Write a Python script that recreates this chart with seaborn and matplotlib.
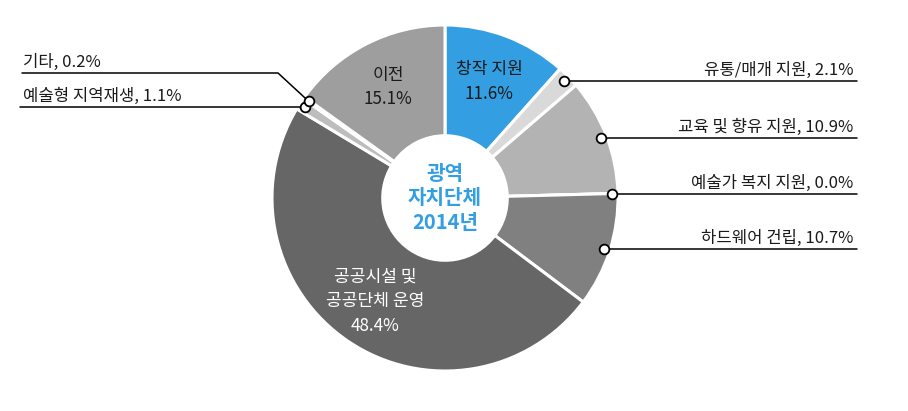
import numpy as np
import matplotlib
matplotlib.use("Agg")
import matplotlib.pyplot as plt
import seaborn as sns

# ---- data ----
categories = ["창작 지원", "유통/매개 지원", "교육 및 향유 지원", "예술가 복지 지원",
              "하드웨어 건립", "공공시설 및\n공공단체 운영", "예술형 지역재생", "기타", "이전"]
values = [11.6, 2.1, 10.9, 0.0, 10.7, 48.4, 1.1, 0.2, 15.1]
colors = ["#339FE2", "#D9D9D9", "#B3B3B3", "#A0A0A0", "#808080",
          "#666666", "#BDBDBD", "#D8D8D8", "#9E9E9E"]
center_title = "광역\n자치단체\n2014년"
inside_idx = [0, 5, 8]
right_idx = [1, 2, 3, 4]
left_idx = [6, 7]

sns.set_theme(style="white")
plt.rcParams["font.family"] = ["Noto Sans CJK KR", "DejaVu Sans"]

W, H = 908, 411
cx, cy, R = 445, 213, 173

fig = plt.figure(figsize=(W / 100, H / 100), dpi=100)
ax = fig.add_axes([0, 0, 1, 1])
ax.pie(values, colors=colors, startangle=90, counterclock=False, radius=R,
       center=(cx, cy), frame=True,
       wedgeprops=dict(width=R * 0.64, edgecolor="white", linewidth=2.2))
ax.set_xlim(0, W)
ax.set_ylim(0, H)
ax.axis("off")

vals = np.array(values)
mid = (np.cumsum(vals) - vals / 2) / vals.sum()
theta = np.deg2rad(90 - 360 * mid)

def pct(v):
    return f"{v:.1f}%"

# inside labels
for i in inside_idx:
    r = 0.72 * R
    x = cx + r * np.cos(theta[i])
    y = cy + r * np.sin(theta[i])
    col = "white" if i == 5 else "#1a1a1a"
    ax.text(x, y, f"{categories[i]}\n{pct(values[i])}", ha="center", va="center",
            fontsize=12.3, color=col, linespacing=1.45)

# center text
ax.text(cx, cy, center_title, ha="center", va="center", fontsize=14.5,
        fontweight="bold", color="#339FE2", linespacing=1.22)

mr = 0.965 * R
def marker_pos(i):
    return cx + mr * np.cos(theta[i]), cy + mr * np.sin(theta[i])

# right labels
for i in right_idx:
    mx, my = marker_pos(i)
    ax.plot([mx, 857], [my, my], color="black", lw=1.1, zorder=3)
    ax.plot(mx, my, "o", ms=7, mfc="white", mec="black", mew=1.3, zorder=4)
    ax.text(853, my + 6, f"{categories[i]}, {pct(values[i])}", ha="right",
            va="baseline", fontsize=12, color="#1a1a1a")

# left labels
left_label_y = {6: None, 7: H - 73}
for i in left_idx:
    mx, my = marker_pos(i)
    ly = left_label_y[i]
    if ly is None:
        ax.plot([20, mx], [my, my], color="black", lw=1.1, zorder=3)
        ty = my
    else:
        ax.plot([22, 278, mx], [ly, ly, my], color="black", lw=1.1, zorder=3)
        ty = ly
    ax.plot(mx, my, "o", ms=7, mfc="white", mec="black", mew=1.3, zorder=4)
    ax.text(23, ty + 6, f"{categories[i]}, {pct(values[i])}", ha="left",
            va="baseline", fontsize=12, color="#1a1a1a")

fig.savefig("out.png", dpi=100)
